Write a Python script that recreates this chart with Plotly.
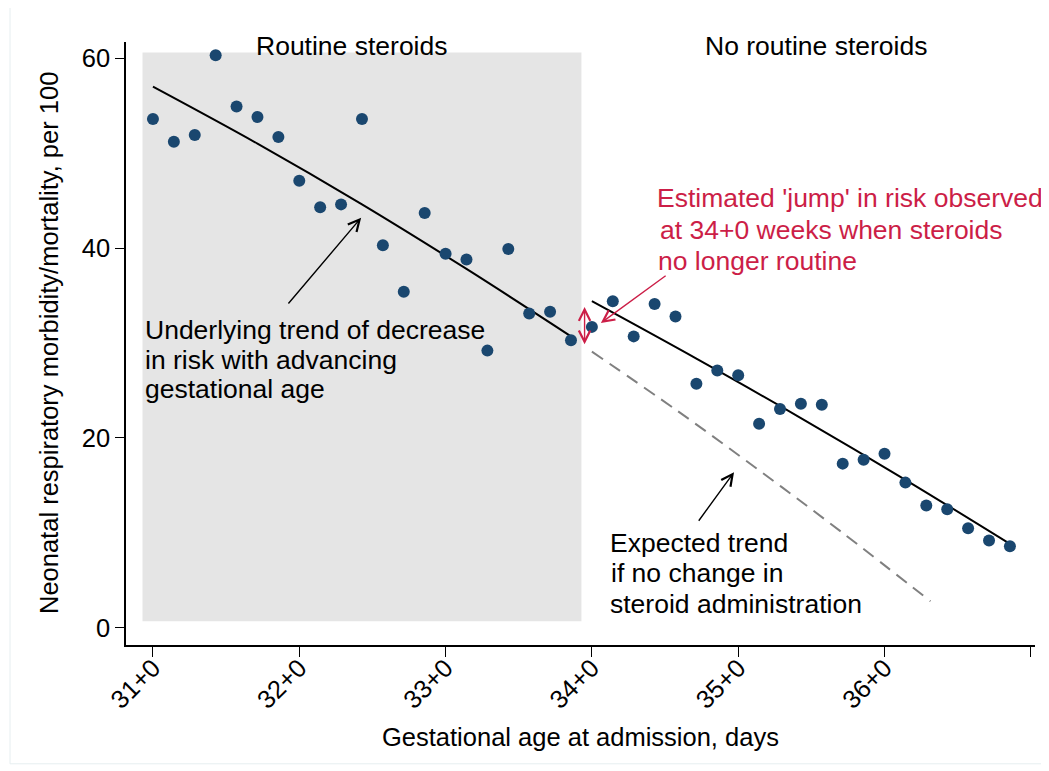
import plotly.graph_objects as go

# ---- data ----
days = list(range(42))  # days since 31+0
risk = [53.6, 51.2, 51.9, 60.3, 54.9, 53.8, 51.7, 47.1, 44.3, 44.6, 53.6,
        40.3, 35.4, 43.7, 39.4, 38.8, 29.2, 39.9, 33.1, 33.3, 30.3,
        31.7, 34.4, 30.7, 34.1, 32.8, 25.7, 27.1, 26.6, 21.5, 23.05,
        23.6, 23.5, 17.3, 17.7, 18.35, 15.3, 12.9, 12.5, 10.5, 9.2, 8.6]

pre_days = [0, 5, 10, 15, 20]
pre_trend = [57.0, 51.0, 44.6, 37.8, 30.7]

post_days = [21, 26, 31, 36, 41]
post_trend = [34.4, 28.35, 22.1, 15.6, 8.85]

exp_days = [21, 25, 29, 33, 37.2]
exp_trend = [29.1, 23.0, 16.6, 10.0, 2.8]

tick_vals = [0, 7, 14, 21, 28, 35, 42]
tick_text = ["31+0", "32+0", "33+0", "34+0", "35+0", "36+0", ""]
y_ticks = [0, 20, 40, 60]

FONT = "Arial, Liberation Sans, sans-serif"
FS = 26.5
NAVY = "#1a476f"
RED = "#cc1e47"

fig = go.Figure()

fig.add_shape(type="rect", xref="x", yref="y", x0=-0.5, x1=20.5, y0=0.7, y1=60.6,
              fillcolor="#e5e5e5", line_width=0, layer="below")

fig.add_trace(go.Scatter(x=exp_days, y=exp_trend, mode="lines", line_shape="spline",
                         line=dict(color="#808080", width=2, dash="13px,8px"),
                         hoverinfo="skip", showlegend=False))
fig.add_trace(go.Scatter(x=pre_days, y=pre_trend, mode="lines", line_shape="spline",
                         line=dict(color="black", width=2), showlegend=False))
fig.add_trace(go.Scatter(x=post_days, y=post_trend, mode="lines", line_shape="spline",
                         line=dict(color="black", width=2), showlegend=False))
fig.add_trace(go.Scatter(x=days, y=risk, mode="markers",
                         marker=dict(color=NAVY, size=12), showlegend=False))

def arrow(x, y, ax, ay, color, both=False):
    fig.add_annotation(x=x, y=y, ax=ax, ay=ay, xref="x", yref="y", axref="x", ayref="y",
                       text="", showarrow=True, arrowhead=5, startarrowhead=5,
                       arrowside="end+start" if both else "end",
                       arrowsize=1.6, startarrowsize=1.6, arrowwidth=1.4, arrowcolor=color)

arrow(9.96, 43.2, 6.42, 34.0, "black")
arrow(27.8, 16.4, 26.06, 11.13, "black")
arrow(21.43, 32.1, 24.6, 37.2, RED)
arrow(20.65, 33.8, 20.65, 29.7, RED, both=True)

def label(x, y, text, color="black", xanchor="left"):
    fig.add_annotation(x=x, y=y, xref="x", yref="y", text=text, showarrow=False,
                       xanchor=xanchor, yanchor="middle", align="left",
                       font=dict(family=FONT, size=FS, color=color))

label(9.5, 61.28, "Routine steroids", xanchor="center")
label(31.72, 61.28, "No routine steroids", xanchor="center")

for yv, t in zip([31.32, 28.21, 25.21],
                 ["Underlying trend of decrease", "in risk with advancing", "gestational age"]):
    label(-0.46, yv, t)
for xv, yv, t in zip([24.04, 24.17, 24.05], [45.26, 41.89, 38.66],
                     ["Estimated 'jump' in risk observed", "at 34+0 weeks when steroids",
                      "no longer routine"]):
    label(xv, yv, t, color=RED)
for xv, yv, t in zip([21.77, 21.8, 21.77], [8.92, 5.76, 2.56],
                     ["Expected trend", "if no change in", "steroid administration"]):
    label(xv, yv, t)

# axis titles
fig.add_annotation(x=0.5, y=-0.1526, xref="paper", yref="paper", showarrow=False,
                   text="Gestational age at admission, days", xanchor="center", yanchor="middle",
                   font=dict(family=FONT, size=25.5))
fig.add_annotation(x=-0.0847, y=0.5008, xref="paper", yref="paper", showarrow=False,
                   text="Neonatal respiratory morbidity/mortality, per 100", textangle=-90,
                   xanchor="center", yanchor="middle", font=dict(family=FONT, size=25.5))

# faint outer frame
fig.add_shape(type="rect", xref="paper", yref="paper", x0=-0.1276, x1=1.0121, y0=-0.197, y1=1.058,
              line=dict(color="#e6eef0", width=1), fillcolor="rgba(0,0,0,0)")

fig.update_layout(
    width=1049, height=771,
    margin=dict(l=118, r=22, t=34, b=134),
    plot_bgcolor="white", paper_bgcolor="white",
    font=dict(family=FONT, size=25.5, color="black"),
    xaxis=dict(range=[-1.29, 42.2], tickmode="array", tickvals=tick_vals, ticktext=tick_text,
               tickangle=-45, ticks="outside", ticklen=10, tickwidth=1.2, tickcolor="black",
               ticklabelstandoff=-14,
               showline=True, linecolor="black", linewidth=1.5, showgrid=False, zeroline=False,
               automargin=False),
    yaxis=dict(range=[-1.8, 61.7], tickmode="array", tickvals=y_ticks,
               ticks="outside", ticklen=9, tickwidth=1.2, tickcolor="black",
               showline=True, linecolor="black", linewidth=1.5, showgrid=False, zeroline=False,
               automargin=False),
)

fig.write_html("out.html")
